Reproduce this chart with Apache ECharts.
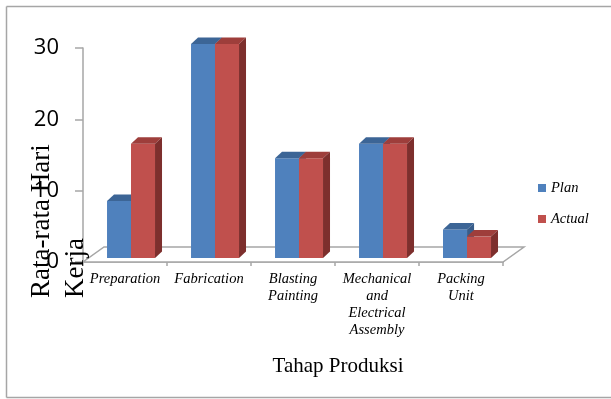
<!DOCTYPE html>
<html>
<head>
<meta charset="utf-8">
<script src="https://cdn.jsdelivr.net/npm/echarts@6/dist/echarts.min.js"></script>
<style>
html,body{margin:0;padding:0;background:#fff;overflow:hidden;}
#chart{width:611px;height:399px;}
</style>
</head>
<body>
<div id="chart"></div>
<script>
const categories = ['Preparation', 'Fabrication', 'Blasting Painting', 'Mechanical and Electrical Assembly', 'Packing Unit'];
const planValues = [8, 30, 14, 16, 4];
const actualValues = [16, 30, 14, 16, 3];
const seriesNames = ['Plan', 'Actual'];
const yMin = 0, yMax = 30, yInterval = 10;
const yAxisTitle = 'Rata-rata Hari\nKerja';
const xAxisTitle = 'Tahap Produksi';

const chart = echarts.init(document.getElementById('chart'), null, {renderer: 'canvas'});

const DX = 7, DY = -6.5, LIFT = 4;
function barRenderer(offsetFrac, front, topC, side) {
  return function (params, api) {
    const idx = api.value(0), val = api.value(1);
    const base = api.coord([idx, 0]);
    const top = api.coord([idx, val]);
    const band = api.size([1, 0])[0];
    const w = band * 0.286;
    const x0 = base[0] + band * offsetFrac;
    const yb = base[1] - LIFT, yt = top[1] - LIFT;
    return {
      type: 'group',
      children: [
        {type: 'polygon', shape: {points: [[x0, yb], [x0 + w, yb], [x0 + w, yt], [x0, yt]]}, style: {fill: front}},
        {type: 'polygon', shape: {points: [[x0, yt], [x0 + w, yt], [x0 + w + DX, yt + DY], [x0 + DX, yt + DY]]}, style: {fill: topC}},
        {type: 'polygon', shape: {points: [[x0 + w, yb], [x0 + w + DX, yb + DY], [x0 + w + DX, yt + DY], [x0 + w, yt]]}, style: {fill: side}}
      ]
    };
  };
}

function floorRenderer(params, api) {
  const cs = params.coordSys;
  const fx0 = cs.x, fx1 = cs.x + cs.width, fy = cs.y + cs.height;
  const ddx = 21, ddy = -15;
  return {
    type: 'polygon',
    shape: {points: [[fx0, fy], [fx1, fy], [fx1 + ddx, fy + ddy], [fx0 + ddx, fy + ddy]]},
    style: {fill: '#fff', stroke: '#a6a6a6', lineWidth: 1.5}
  };
}

const borderStyle = {stroke: '#a6a6a6', lineWidth: 1.5};
const option = {
  animation: false,
  backgroundColor: '#fff',
  grid: {left: 83, right: 108, top: 48, bottom: 137, containLabel: false, outerBoundsMode: 'none'},
  legend: {
    orient: 'vertical', left: 538, top: 180, padding: 0,
    itemWidth: 8, itemHeight: 8, itemGap: 15, icon: 'rect',
    textStyle: {fontFamily: 'Liberation Serif', fontStyle: 'italic', fontSize: 14.5, lineHeight: 16, color: '#000'},
    data: seriesNames
  },
  xAxis: {
    type: 'category',
    data: categories,
    boundaryGap: true,
    axisLine: {show: true, lineStyle: {color: '#a6a6a6', width: 1.5}},
    axisTick: {show: true, length: 4, inside: false, alignWithLabel: false, lineStyle: {color: '#a6a6a6', width: 1.5}},
    axisLabel: {
      interval: 0, margin: 9,
      fontFamily: 'Liberation Serif', fontStyle: 'italic', fontSize: 14.5, lineHeight: 17, color: '#000',
      formatter: v => v.split(' ').join('\n')
    },
    splitLine: {show: false}
  },
  yAxis: {
    type: 'value', min: yMin, max: yMax, interval: yInterval,
    axisLine: {show: true, lineStyle: {color: '#a6a6a6', width: 1.5}},
    axisTick: {show: true, length: 8, lineStyle: {color: '#a6a6a6', width: 1.5}},
    axisLabel: {margin: 24, fontFamily: 'Open Sans', fontSize: 22, color: '#000'},
    splitLine: {show: false}
  },
  graphic: [
    {type: 'line', z: -10, shape: {x1: 6.5, y1: 6.5, x2: 611, y2: 6.5}, style: borderStyle},
    {type: 'line', z: -10, shape: {x1: 6.5, y1: 6.5, x2: 6.5, y2: 397.5}, style: borderStyle},
    {type: 'line', z: -10, shape: {x1: 6.5, y1: 397.5, x2: 611, y2: 397.5}, style: borderStyle},
    {type: 'text', x: 25, y: 298, rotation: Math.PI / 2, z: 100,
     style: {text: yAxisTitle, fontFamily: 'Liberation Serif', fontSize: 27, lineHeight: 34, fill: '#000', align: 'left', verticalAlign: 'top'}},
    {type: 'text', x: 338, y: 366, z: 100,
     style: {text: xAxisTitle, fontFamily: 'Liberation Serif', fontSize: 21, fill: '#000', align: 'center', verticalAlign: 'middle'}}
  ],
  series: [
    {type: 'custom', name: 'floor', z: 1, silent: true, renderItem: floorRenderer, data: [[0, 0]], encode: {x: 0, y: 1}},
    {type: 'custom', name: seriesNames[0], z: 2, itemStyle: {color: '#4F81BD'},
     renderItem: barRenderer(-0.214, '#4F81BD', '#3C6596', '#385D8A'),
     data: planValues.map((v, i) => [i, v]), encode: {x: 0, y: 1}},
    {type: 'custom', name: seriesNames[1], z: 3, itemStyle: {color: '#C0504D'},
     renderItem: barRenderer(0.0714, '#C0504D', '#9E3E3B', '#7D2F2D'),
     data: actualValues.map((v, i) => [i, v]), encode: {x: 0, y: 1}}
  ]
};
chart.setOption(option);
</script>
</body>
</html>
